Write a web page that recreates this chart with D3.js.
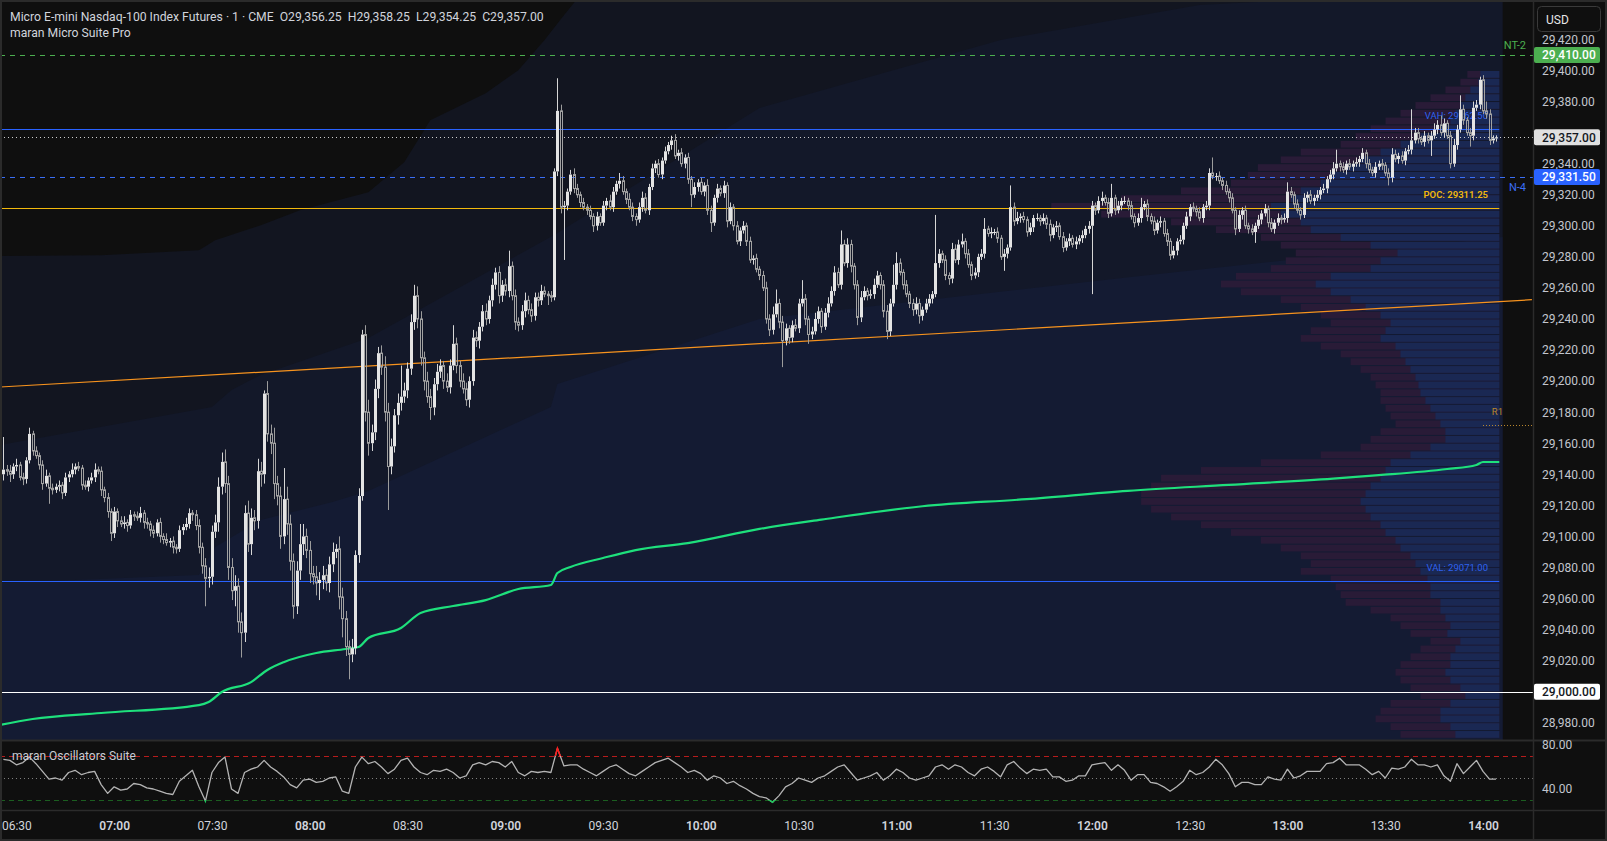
<!DOCTYPE html>
<html>
<head>
<meta charset="utf-8">
<script src="https://cdn.jsdelivr.net/npm/d3@7"></script>
<style>
  html, body { margin: 0; padding: 0; background: #0f0f0f; }
  svg { display: block; font-family: Roboto, "Liberation Sans", sans-serif; }
</style>
</head>
<body>
<svg id="chart" width="1607" height="841"></svg>
<script>
// ---- data ----------------------------------------------------------------
const basePrice = 29000;
const firstBar = "06:26";          // first 1-minute bar on screen
const firstOpen = 140;             // offsets from basePrice
const lastOHLC = [29356.25, 29358.25, 29354.25, 29357.00];

// closes of each 1-minute bar (points above basePrice)
const closes = [
  143, 142, 140, 145,
  146, 138, 137, 149, 166, 155, 152, 146, 134, 139,
  131, 130, 132, 133, 128, 138, 140, 143, 145, 144,
  133, 132, 136, 138, 143, 142, 130, 125, 116, 102,
  116, 110, 108, 109, 107, 114, 113, 112, 115, 109,
  108, 104, 102, 109, 100, 98, 96, 97, 93, 92,
  104, 106, 108, 115, 114, 107, 93, 81, 73, 74,
  103, 109, 132, 148, 134, 80, 65, 68, 45, 38,
  115, 95, 112, 110, 142, 140, 192, 166, 160, 134,
  126, 100, 124, 108, 84, 55, 78, 95, 100, 91,
  76, 74, 70, 72, 75, 70, 82, 90, 92, 61,
  47, 29, 24, 28, 88, 126, 230, 180, 160, 167,
  195, 218, 209, 180, 145, 158, 178, 186, 190, 194,
  208, 238, 255, 240, 215, 200, 190, 183, 198, 206,
  210, 200, 196, 210, 224, 210, 200, 195, 188, 200,
  228, 226, 235, 245, 240, 252, 262, 270, 255, 262,
  258, 274, 255, 238, 236, 245, 252, 246, 242, 254,
  252, 258, 256, 255, 254, 335, 374, 312, 313, 322,
  333, 324, 320, 315, 312, 310, 306, 300, 306, 302,
  313, 316, 312, 322, 327, 329, 322, 317, 312, 306,
  304, 312, 318, 310, 325, 337, 340, 333, 342, 348,
  352, 355, 345, 347, 340, 344, 330, 320, 325, 328,
  322, 326, 310, 302, 318, 324, 321, 326, 303, 312,
  300, 290, 297, 300, 290, 278, 279, 272, 268, 260,
  240, 233, 243, 250, 238, 226, 234, 228, 236, 234,
  250, 253, 240, 230, 232, 240, 245, 235, 244, 250,
  258, 270, 262, 288, 276, 288, 274, 262, 241, 254,
  258, 255, 256, 262, 268, 262, 245, 232, 250, 262,
  276, 270, 262, 256, 250, 246, 250, 242, 246, 250,
  253, 256, 276, 282, 278, 268, 266, 285, 278, 288,
  290, 282, 275, 268, 270, 280, 282, 298, 295, 296,
  296, 292, 280, 282, 286, 312, 303, 305, 306, 304,
  296, 299, 305, 305, 303, 305, 301, 294, 299, 300,
  293, 286, 290, 292, 288, 290, 292, 294, 298, 300,
  313, 310, 316, 318, 315, 308, 318, 310, 313, 316,
  316, 313, 306, 302, 305, 312, 314, 306, 303, 297,
  302, 303, 295, 290, 281, 284, 290, 291, 300, 306,
  312, 311, 309, 305, 312, 313, 334, 332, 332, 329,
  326, 322, 318, 310, 298, 307, 310, 300, 298, 296,
  300, 304, 308, 311, 302, 298, 302, 305, 304, 305,
  322, 320, 314, 310, 307, 318, 320, 316, 318, 320,
  323, 324, 330, 333, 337, 340, 338, 336, 340, 338,
  340, 341, 343, 347, 340, 336, 334, 338, 340, 339,
  334, 331, 346, 343, 345, 342, 348, 349, 355, 360,
  356, 354, 358, 355, 358, 362, 365, 360, 366, 358,
  340, 352, 362, 375, 368, 360, 358, 376, 378, 394,
  374, 372, 355, 356.25, 357
];

// upper / lower wick length beyond the body (points)
const wickUp = [
  21, 3, 4, 2,
  4, 2, 3, 2, 4, 2, 3, 2, 3, 4,  2, 3, 2, 3, 2, 3, 2, 4, 2, 3,
  2, 3, 2, 3, 4, 2, 3, 2, 3, 2,  3, 2, 3, 4, 2, 3, 2, 3, 4, 2,
  3, 2, 3, 2, 3, 2, 4, 2, 3, 2,  3, 2, 4, 3, 2, 3, 4, 3, 5, 6,
  4, 5, 6, 6, 8, 5, 6, 7, 5, 6,  5, 8, 6, 5, 8, 6, 2, 8, 6, 10,
  5, 6, 20, 8, 6, 5, 6, 13, 8, 5,  6, 5, 7, 5, 6, 4, 5, 6, 3, 8,
  6, 5, 4, 6, 3, 5, 3, 6, 8, 5,  6, 4, 5, 7, 6, 5, 4, 6, 20, 5,
  4, 5, 7, 6, 5, 4, 6, 5, 4, 5,  4, 3, 5, 4, 12, 4, 3, 5, 4, 3,
  5, 4, 3, 4, 5, 3, 4, 3, 4, 3,  4, 10, 3, 4, 3, 4, 5, 3, 4, 3,
  3, 4, 3, 2, 3, 2, 21, 4, 3, 2,  3, 4, 3, 2, 3, 2, 3, 2, 3, 2,
  3, 2, 4, 3, 2, 5, 3, 2, 4, 3,  2, 3, 4, 3, 2, 3, 2, 3, 2, 3,
  2, 3, 4, 2, 3, 2, 3, 2, 3, 2,  3, 2, 4, 3, 2, 3, 2, 3, 2, 3,
  2, 3, 2, 3, 2, 3, 2, 3, 2, 3,  4, 3, 5, 9, 3, 4, 3, 2, 3, 4,
  3, 12, 3, 2, 3, 4, 3, 2, 3, 4,  3, 4, 3, 9, 3, 4, 3, 2, 3, 4,
  3, 2, 3, 4, 3, 2, 3, 4, 3, 13,  7, 3, 2, 3, 2, 3, 4, 3, 2, 3,
  3, 2, 31, 3, 2, 3, 2, 4, 3, 3,  5, 2, 3, 2, 3, 2, 3, 7, 2, 3,
  2, 3, 2, 3, 2, 14, 3, 4, 2, 3,  2, 3, 2, 3, 2, 3, 2, 3, 2, 3,
  2, 3, 2, 3, 2, 3, 2, 3, 2, 3,  3, 2, 3, 4, 2, 3, 9, 2, 3, 2,
  3, 2, 3, 2, 3, 6, 2, 3, 2, 3,  2, 3, 2, 3, 2, 3, 2, 3, 2, 3,
  2, 3, 2, 3, 2, 3, 3, 10, 2, 3,  2, 3, 2, 3, 2, 3, 2, 3, 2, 3,
  2, 3, 2, 3, 2, 3, 2, 3, 2, 3,  6, 3, 2, 3, 2, 3, 2, 3, 2, 3,
  2, 3, 2, 3, 4, 9, 2, 3, 2, 3,  2, 3, 2, 3, 2, 3, 2, 3, 2, 3,
  2, 3, 4, 3, 2, 3, 2, 3, 20, 3,  3, 2, 3, 2, 3, 4, 3, 6, 3, 2,
  3, 4, 3, 9, 3, 2, 3, 4, 3, 2,  3, 6, 3, 2, 1
];
const wickDn = [
  4, 3, 5, 3,
  3, 2, 4, 3, 2, 3, 2, 3, 4, 2,  10, 3, 2, 3, 4, 2, 3, 2, 3, 2,
  3, 2, 3, 2, 3, 2, 4, 3, 4, 5,  3, 4, 2, 3, 4, 2, 3, 2, 3, 4,
  3, 4, 3, 2, 4, 3, 2, 3, 4, 3,  2, 3, 2, 3, 4, 3, 4, 5, 18, 6,
  5, 4, 6, 5, 6, 8, 6, 10, 7, 16,  6, 5, 7, 6, 5, 8, 6, 5, 7, 10,
  6, 8, 5, 7, 6, 8, 5, 6, 7, 5,  6, 5, 8, 11, 6, 5, 6, 5, 4, 8,
  12, 6, 16, 5, 4, 5, 3, 6, 8, 5,  5, 6, 5, 6, 28, 5, 4, 6, 5, 4,
  5, 4, 5, 6, 5, 6, 4, 8, 5, 4,  4, 5, 3, 4, 3, 5, 4, 3, 4, 5,
  3, 4, 5, 3, 4, 3, 4, 3, 5, 4,  3, 4, 3, 5, 4, 3, 4, 3, 4, 3,
  4, 3, 2, 6, 3, 2, 3, 4, 34, 3,  2, 3, 2, 3, 2, 3, 2, 4, 3, 2,
  2, 3, 2, 3, 2, 3, 2, 3, 2, 3,  4, 2, 3, 2, 3, 2, 3, 2, 3, 2,
  2, 3, 2, 3, 2, 3, 3, 8, 2, 3,  2, 3, 3, 6, 2, 3, 2, 3, 4, 2,
  3, 2, 3, 2, 3, 2, 3, 2, 3, 2,  3, 4, 3, 2, 4, 17, 3, 4, 3, 2,
  3, 2, 4, 6, 3, 2, 3, 4, 2, 3,  2, 3, 2, 3, 2, 3, 4, 3, 5, 3,
  2, 3, 2, 3, 2, 3, 4, 5, 3, 2,  3, 2, 3, 2, 3, 4, 3, 5, 3, 2,
  2, 3, 2, 3, 2, 3, 4, 3, 2, 3,  2, 3, 2, 3, 2, 3, 2, 3, 2, 3,
  2, 3, 2, 9, 3, 2, 3, 2, 3, 2,  3, 2, 3, 2, 3, 2, 3, 4, 2, 3,
  2, 3, 2, 3, 2, 3, 2, 3, 2, 3,  44, 3, 2, 3, 2, 3, 2, 3, 2, 3,
  2, 3, 2, 3, 2, 3, 2, 3, 2, 3,  2, 3, 2, 3, 3, 2, 3, 2, 3, 2,
  3, 2, 3, 2, 3, 2, 3, 2, 3, 2,  3, 2, 3, 2, 4, 2, 3, 2, 3, 2,
  7, 2, 3, 2, 3, 2, 3, 2, 3, 2,  3, 2, 3, 2, 3, 2, 3, 2, 3, 2,
  3, 2, 3, 2, 3, 2, 3, 2, 3, 2,  3, 2, 3, 2, 3, 2, 2, 3, 2, 3,
  2, 5, 3, 2, 3, 2, 3, 2, 3, 2,  3, 2, 3, 2, 10, 2, 3, 2, 3, 2,
  3, 2, 3, 2, 3, 2, 7, 3, 2, 3,  2, 3, 3, 2, 2
];

// oscillator, one reading every 2 minutes from 06:26
const oscStep = 2;
const oscValues = [
  67, 66, 62, 64, 69, 63, 56, 49, 50, 48,
  55, 57, 53, 55, 56, 44, 36, 42, 39, 40,
  45, 44, 41, 40, 38, 36, 35, 47, 52, 57,
  42, 29, 55, 64, 69, 40, 36, 55, 58, 60,
  66, 60, 56, 51, 44, 41, 48, 49, 46, 47,
  50, 51, 38, 36, 60, 69, 63, 65, 60, 54,
  58, 66, 68, 60, 55, 53, 57, 56, 58, 55,
  50, 52, 62, 64, 62, 65, 64, 60, 65, 55,
  52, 56, 55, 56, 55, 77, 61, 62, 62, 58,
  55, 52,
  56, 60, 62, 58, 54, 52, 56, 60, 64, 66,
  68, 64, 60, 55, 57, 54, 48, 52, 50, 45,
  47, 43, 40, 36, 33, 32, 28, 34, 42, 45,
  50, 48, 46, 50, 52, 56, 60, 62, 55, 48,
  50, 52, 55, 48, 52, 58, 55, 50, 48, 50,
  52, 60, 62, 58, 62, 60, 55, 52, 58, 60,
  56, 51, 62, 65, 59, 54, 58, 57, 58, 51,
  51, 47, 48, 52, 52, 62, 63, 64, 57, 62,
  57, 48, 53, 53, 46, 45, 42, 38, 42, 47,
  57, 53, 55, 60, 67, 62, 54, 42, 46, 46,
  44, 44, 51, 49, 48, 58, 50, 52, 56, 56,
  56, 63, 64, 68, 62, 62, 62, 58, 53, 56,
  50, 59, 58, 60, 67, 62, 62, 60, 62, 52,
  47, 63, 54, 60, 66, 56, 49, 49
];
const oscLevels = [70, 50, 30];

// session VWAP (minutes from 06:30, price)
const vwapMin = [-5, 5, 26, 56, 59, 63, 72, 77, 82, 92, 101, 105, 108, 118, 124, 134, 144, 154,
  164, 166, 170, 180, 190, 206, 228, 247, 278, 310, 341, 372, 404, 418, 439, 448, 450, 455];
const vwapPrice = [28978.6, 28982.4, 28986.3, 28991.4, 28993.4, 28999.8, 29006.2, 29014, 29019,
  29024.9, 29027.5, 29028.8, 29034.6, 29041, 29050.7, 29055.2, 29059, 29066.1, 29068.7, 29076.4,
  29080.3, 29086.1, 29091.2, 29095.7, 29104.8, 29110.8, 29119.4, 29124, 29129.3, 29133.2,
  29137.2, 29139.4, 29143.4, 29146, 29147.9, 29147.9];

// cloud band edges (minutes from 06:30, price)
const band1Min = [-5, 26, 56, 61, 75, 87, 108, 119, 127, 144, 154, 162, 168, 173, 456];
const band1Price = [29280.5, 29281.1, 29284.3, 29290.7, 29300.4, 29310, 29321.6, 29340.9,
  29368, 29385.4, 29400.2, 29419.5, 29435.6, 29448.5, 29448.5];
const band2Min = [-5, 60, 66, 75, 108, 165, 228, 302, 363, 456];
const band2Price = [29158.9, 29183.4, 29194.3, 29204, 29227.8, 29294.1, 29375.9, 29419.7,
  29442.2, 29451.9];
const band3Min = [-5, 56, 61, 75, 97, 108, 164, 166, 228, 342, 456];
const band3Price = [29070, 29075.1, 29093.2, 29110.6, 29122.2, 29129.3, 29183.4, 29198.2,
  29240, 29267.1, 29292.8];

// volume profile, 5-point rows from 28970 upward
const profileFrom = 28970;
const profileStep = 5;
const profileTotal = [
  99, 109, 124, 119, 109, 79, 89, 99, 104, 99, 89, 79, 69, 89, 99, 109, 129, 154, 159, 164,
  169, 199, 189, 199, 219, 239, 269, 299, 329, 349, 359, 359, 349, 339, 299, 239, 179, 139,
  129, 119, 104, 109, 114, 119, 119, 124, 129, 139, 149, 159, 179, 199, 189, 169, 179, 199,
  219, 259, 279, 264, 229, 214, 204, 219, 239, 284, 329, 399, 449, 379, 319, 269, 252, 242,
  219, 199, 159, 144, 129, 114, 99, 84, 69, 54, 39, 32
];
const profileBuy = [
  44, 49, 59, 59, 49, 34, 39, 49, 54, 49, 49, 44, 39, 52, 49, 54, 59, 59, 69, 69,
  72, 79, 84, 89, 99, 104, 114, 119, 129, 134, 139, 134, 129, 119, 114, 109, 89, 69,
  54, 54, 59, 64, 69, 74, 79, 81, 84, 89, 94, 99, 104, 119, 114, 109, 119, 134,
  149, 169, 184, 169, 129, 119, 102, 129, 159, 189, 199, 219, 229, 209, 199, 179, 169, 154,
  139, 119, 99, 79, 59, 49, 44, 39, 34, 29, 21, 19
];

// levels
const vah = 29362.5, poc = 29311.25, val = 29071.0;
const nt2 = 29410, n4 = 29331.5, roundLevel = 29000, r1 = 29171.5;
const lastPrice = lastOHLC[3];
const trendMin = [-5, 465];
const trendPrice = [29196.2, 29252.4];
const priceTicks = d3.range(28980, 29421, 20);
const oscTicks = [40, 80];
const timeTickEvery = 30;

// ---- layout ---------------------------------------------------------------
const W = 1607, H = 841;
const plotRight = 1533, mainBottom = 740, oscBottom = 810;
const svg = d3.select("#chart");

const parseT = d3.timeParse("%H:%M");
const t0630 = parseT("06:30");
const atMin = m => new Date(t0630.getTime() + m * 60000);
const barStart = (parseT(firstBar) - t0630) / 60000;

const x = d3.scaleTime().domain([t0630, parseT("14:00")]).range([16.4, 1483]);
const y = d3.scaleLinear().domain([29000, 29420]).range([691.7, 39.44]);
const yo = d3.scaleLinear().domain([40, 80]).range([789, 745]);
const profileEnd = x(atMin(455));

const bars = closes.map((c, i) => {
  const o = i === 0 ? firstOpen : closes[i - 1];
  return {
    time: atMin(barStart + i),
    o: basePrice + o, c: basePrice + c,
    h: basePrice + Math.max(o, c) + wickUp[i],
    l: basePrice + Math.min(o, c) - wickDn[i]
  };
});
const lastBar = bars[bars.length - 1];
[lastBar.o, lastBar.h, lastBar.l, lastBar.c] = lastOHLC;

svg.append("rect").attr("width", W).attr("height", H).attr("fill", "#0f0f0f");

const defs = svg.append("defs");
defs.append("clipPath").attr("id", "clipMain")
  .append("rect").attr("x", 0).attr("y", 0).attr("width", plotRight).attr("height", mainBottom);
defs.append("clipPath").attr("id", "clipOsc")
  .append("rect").attr("x", 0).attr("y", mainBottom).attr("width", plotRight).attr("height", oscBottom - mainBottom);
defs.append("clipPath").attr("id", "clipHot")
  .append("rect").attr("x", 0).attr("y", mainBottom).attr("width", plotRight).attr("height", yo(70) - mainBottom);
defs.append("clipPath").attr("id", "clipCold")
  .append("rect").attr("x", 0).attr("y", yo(30)).attr("width", plotRight).attr("height", oscBottom - yo(30));

const main = svg.append("g").attr("clip-path", "url(#clipMain)");

// cloud bands
function bandArea(mins, prices, color) {
  const pts = mins.map((m, i) => ({ t: atMin(m), p: prices[i] }));
  main.append("path").datum(pts)
    .attr("fill", color)
    .attr("d", d3.area().x(d => x(d.t)).y0(mainBottom).y1(d => y(d.p)));
}
bandArea(band1Min, band1Price, "#121520");
bandArea(band2Min, band2Price, "#131829");
bandArea(band3Min, band3Price, "#141b33");

// volume profile
const vol = d3.scaleLinear().domain([0, 450]).range([0, 449]);
const rows = profileTotal.map((v, i) => ({ p: profileFrom + i * profileStep, total: v, buy: profileBuy[i] }));
const gProf = main.append("g");
gProf.selectAll("rect.tot").data(rows).join("rect").attr("class", "tot")
  .attr("x", d => profileEnd - vol(d.total))
  .attr("y", d => y(d.p + profileStep) + 0.5)
  .attr("width", d => vol(d.total))
  .attr("height", d => y(d.p) - y(d.p + profileStep) - 1)
  .attr("fill", "#291b37");
gProf.selectAll("rect.buy").data(rows).join("rect").attr("class", "buy")
  .attr("x", d => profileEnd - vol(d.buy))
  .attr("y", d => y(d.p + profileStep) + 0.5)
  .attr("width", d => vol(d.buy))
  .attr("height", d => y(d.p) - y(d.p + profileStep) - 1)
  .attr("fill", "#1a2853");

// value area lines
const x0 = 0;
function hline(price, color, opts = {}) {
  const yy = Math.round(y(price)) + 0.5;
  main.append("line")
    .attr("x1", x0).attr("x2", opts.x2 ?? plotRight)
    .attr("y1", yy).attr("y2", yy)
    .attr("stroke", color).attr("stroke-width", opts.w ?? 1)
    .attr("stroke-dasharray", opts.dash ?? null);
}
hline(vah, "#2962ff", { x2: profileEnd });
hline(val, "#2962ff", { x2: profileEnd });
hline(poc, "#f2b90c", { x2: profileEnd });
hline(nt2, "#4caf50", { dash: "5,5" });
hline(n4, "#3a6ef5", { dash: "5,5" });
hline(roundLevel, "#ffffff");
hline(lastPrice, "#cfcfcf", { dash: "1,3" });

const lblStyle = (sel, color, size, weight) => sel
  .attr("fill", color).style("font-size", size + "px").style("font-weight", weight || 400);

lblStyle(main.append("text").attr("x", 1488).attr("y", y(vah) - 10).attr("text-anchor", "end")
  .text("VAH: 29362.50"), "#2f62f0", 9.5);
lblStyle(main.append("text").attr("x", 1488).attr("y", y(poc) - 10).attr("text-anchor", "end")
  .text("POC: 29311.25"), "#f2b90c", 9.5, 600);
lblStyle(main.append("text").attr("x", 1488).attr("y", y(val) - 10).attr("text-anchor", "end")
  .text("VAL: 29071.00"), "#2f62f0", 9.5);
lblStyle(main.append("text").attr("x", 1526).attr("y", y(nt2) - 6).attr("text-anchor", "end")
  .text("NT-2"), "#4caf50", 11);
lblStyle(main.append("text").attr("x", 1526).attr("y", y(n4) + 14).attr("text-anchor", "end")
  .text("N-4"), "#3a6ef5", 11);

// R1 marker
main.append("line")
  .attr("x1", x(parseT("14:00"))).attr("x2", plotRight)
  .attr("y1", Math.round(y(r1)) + 0.5).attr("y2", Math.round(y(r1)) + 0.5)
  .attr("stroke", "#b8862e").attr("stroke-dasharray", "1,2");
lblStyle(main.append("text").attr("x", 1503).attr("y", y(r1) - 10).attr("text-anchor", "end")
  .text("R1"), "#b8862e", 9.5);

// trend line
main.append("line")
  .attr("x1", x(atMin(trendMin[0]))).attr("y1", y(trendPrice[0]))
  .attr("x2", x(atMin(trendMin[1]))).attr("y2", y(trendPrice[1]))
  .attr("stroke", "#f7931e").attr("stroke-width", 1.2);

// VWAP
const vwapPts = vwapMin.map((m, i) => ({ t: atMin(m), p: vwapPrice[i] }));
main.append("path").datum(vwapPts)
  .attr("fill", "none").attr("stroke", "#1ee07c").attr("stroke-width", 2.2)
  .attr("stroke-linejoin", "round")
  .attr("d", d3.line().curve(d3.curveMonotoneX).x(d => x(d.t)).y(d => y(d.p)));

// candles
const gC = main.append("g");
const cx = d => Math.round(x(d.time));
const up = d => d.c >= d.o;
gC.selectAll("line.wu").data(bars).join("line").attr("class", "wu")
  .attr("x1", d => cx(d) + 0.5).attr("x2", d => cx(d) + 0.5)
  .attr("y1", d => y(d.h)).attr("y2", d => y(Math.max(d.o, d.c)))
  .attr("stroke", d => up(d) ? "#d6d6d6" : "#9c9c9c");
gC.selectAll("line.wd").data(bars).join("line").attr("class", "wd")
  .attr("x1", d => cx(d) + 0.5).attr("x2", d => cx(d) + 0.5)
  .attr("y1", d => y(Math.min(d.o, d.c))).attr("y2", d => y(d.l))
  .attr("stroke", d => up(d) ? "#d6d6d6" : "#9c9c9c");
gC.selectAll("rect.b").data(bars).join("rect").attr("class", "b")
  .attr("x", d => up(d) ? cx(d) - 1 : cx(d) - 0.5)
  .attr("width", d => up(d) ? 3 : 2)
  .attr("y", d => y(Math.max(d.o, d.c)))
  .attr("height", d => Math.max(1, y(Math.min(d.o, d.c)) - y(Math.max(d.o, d.c))))
  .attr("fill", d => up(d) ? "#e4e4e4" : "none")
  .attr("stroke", d => up(d) ? "none" : "#a2a2a2")
  .attr("stroke-width", 1);

// ---- oscillator pane ------------------------------------------------------
const osc = svg.append("g").attr("clip-path", "url(#clipOsc)");
const oscDash = { 70: ["#b71c1c", "5,4"], 50: ["#808080", "1,3"], 30: ["#1b5e20", "5,4"] };
oscLevels.forEach(v => {
  const yy = Math.round(yo(v)) + 0.5;
  osc.append("line").attr("x1", 0).attr("x2", plotRight).attr("y1", yy).attr("y2", yy)
    .attr("stroke", oscDash[v][0]).attr("stroke-dasharray", oscDash[v][1]);
});
lblStyle(svg.append("text").attr("x", 12).attr("y", 760).text("maran Oscillators Suite"), "#c9ccd4", 12);

const oscPts = oscValues.map((v, i) => ({ t: atMin(barStart + i * oscStep), v }));
const oscLine = d3.line().x(d => x(d.t)).y(d => yo(d.v));
osc.append("path").datum(oscPts).attr("fill", "none").attr("stroke", "#b4b4b4")
  .attr("stroke-width", 1.3).attr("stroke-linejoin", "round").attr("d", oscLine);
svg.append("path").datum(oscPts).attr("clip-path", "url(#clipHot)").attr("fill", "none")
  .attr("stroke", "#ff1a1a").attr("stroke-width", 1.5).attr("d", oscLine);
svg.append("path").datum(oscPts).attr("clip-path", "url(#clipCold)").attr("fill", "none")
  .attr("stroke", "#22c55e").attr("stroke-width", 1.5).attr("d", oscLine);

// ---- frame & separators ---------------------------------------------------
const sep = "#2b2b2b";
svg.append("line").attr("x1", 0).attr("x2", W).attr("y1", mainBottom + 0.5).attr("y2", mainBottom + 0.5)
  .attr("stroke", sep).attr("stroke-width", 2);
svg.append("line").attr("x1", 0).attr("x2", W).attr("y1", oscBottom + 0.5).attr("y2", oscBottom + 0.5)
  .attr("stroke", sep).attr("stroke-width", 1.5);
svg.append("line").attr("x1", plotRight + 0.5).attr("x2", plotRight + 0.5).attr("y1", 0).attr("y2", H)
  .attr("stroke", sep).attr("stroke-width", 1.5);

// ---- axes -----------------------------------------------------------------
const axisText = g => g.call(s => s.select(".domain").remove())
  .selectAll("text").attr("fill", "#c3c6ce").style("font-size", "12px")
  .style("font-family", "Roboto, sans-serif");

// price tags (drawn over the axis labels they cover, as on the reference)
const tags = [
  { p: nt2, bg: "#4caf50", fg: "#ffffff" },
  { p: lastPrice, bg: "#e0e0e0", fg: "#131722" },
  { p: n4, bg: "#2962ff", fg: "#ffffff" },
  { p: roundLevel, bg: "#ffffff", fg: "#131722" }
];
// axis labels that sit right under a tag are hidden behind it
const freeTicks = priceTicks.filter(v => tags.every(t => Math.abs(y(v) - y(t.p)) > 8));

svg.append("g").attr("transform", `translate(${plotRight},0)`)
  .call(d3.axisRight(y).tickValues(freeTicks).tickFormat(d3.format(",.2f")).tickSize(0).tickPadding(9))
  .call(axisText);
svg.append("g").attr("transform", `translate(${plotRight},0)`)
  .call(d3.axisRight(yo).tickValues(oscTicks).tickFormat(d3.format(".2f")).tickSize(0).tickPadding(9))
  .call(axisText);

const timeAxis = svg.append("g").attr("transform", `translate(0,${oscBottom + 8})`)
  .call(d3.axisBottom(x).ticks(d3.timeMinute.every(timeTickEvery)).tickFormat(d3.timeFormat("%H:%M")).tickSize(0))
  .call(axisText);
timeAxis.selectAll("text").attr("fill", "#d1d4dc")
  .style("font-weight", d => d.getMinutes() === 0 ? 600 : 400);

const gTag = svg.append("g");
tags.forEach(t => {
  gTag.append("rect").attr("x", plotRight + 1).attr("y", y(t.p) - 8).attr("width", 66).attr("height", 16)
    .attr("rx", 2).attr("fill", t.bg);
  gTag.append("text").attr("x", plotRight + 9).attr("y", y(t.p) + 4.5)
    .attr("fill", t.fg).style("font-size", "12px").style("font-weight", 500)
    .text(d3.format(",.2f")(t.p));
});

// USD box
svg.append("rect").attr("x", 1537.5).attr("y", 6.5).attr("width", 63).attr("height", 25).attr("rx", 4)
  .attr("fill", "#0f0f0f").attr("stroke", "#3a3a3a");
lblStyle(svg.append("text").attr("x", 1546).attr("y", 23.5).text("USD"), "#e6e6e6", 12);

// header
lblStyle(svg.append("text").attr("x", 10).attr("y", 21).style("white-space", "pre")
  .text("Micro E-mini Nasdaq-100 Index Futures · 1 · CME  O" + d3.format(",.2f")(lastOHLC[0]) +
    "  H" + d3.format(",.2f")(lastOHLC[1]) + "  L" + d3.format(",.2f")(lastOHLC[2]) +
    "  C" + d3.format(",.2f")(lastOHLC[3])), "#d1d4dc", 12.2);
lblStyle(svg.append("text").attr("x", 10).attr("y", 37).text("maran Micro Suite Pro"), "#d1d4dc", 12.2);

// outer frame
svg.append("rect").attr("x", 1).attr("y", 1).attr("width", W - 2).attr("height", H - 2)
  .attr("fill", "none").attr("stroke", sep).attr("stroke-width", 2);
</script>
</body>
</html>
